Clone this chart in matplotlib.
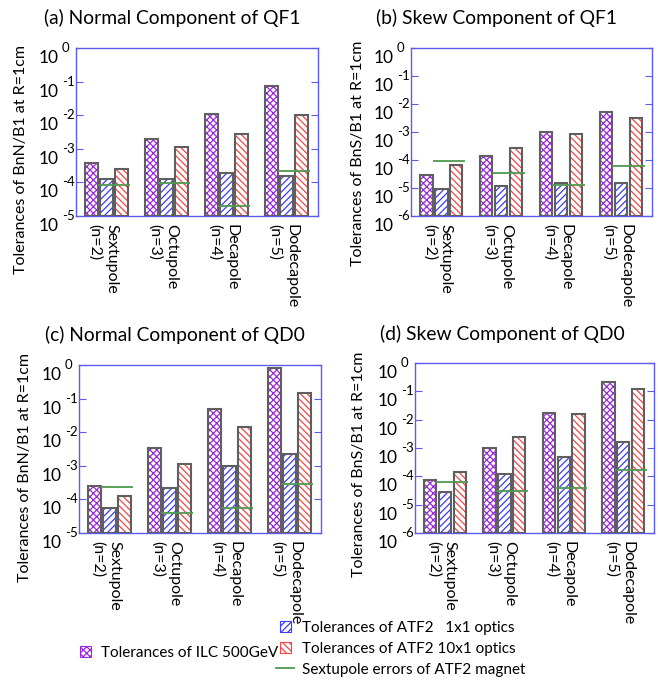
""" multipole tolerances of the final doublet, ILC vs ATF2 """

import numpy
import matplotlib
matplotlib.use("Agg")
import matplotlib.pyplot
import matplotlib.patches
import matplotlib.lines
import matplotlib.legend_handler

OUTPUT = "out.png"

LABELS = ["Sextupole\n(n=2)", "Octupole\n(n=3)", "Decapole\n(n=4)", "Dodecapole\n(n=5)"]

# QF1 normal component
QF1_N_ILC = [3.9e-4, 2.0e-3, 1.12e-2, 7.3e-2]
QF1_N_ATF1 = [1.23e-4, 1.29e-4, 1.94e-4, 1.55e-4]
QF1_N_ATF10 = [2.55e-4, 1.12e-3, 2.67e-3, 9.8e-3]
QF1_N_ERR = [8.3e-5, 9.3e-5, 2.0e-5, 2.2e-4]

# QF1 skew component
QF1_S_ILC = [2.9e-5, 1.41e-4, 9.9e-4, 5.2e-3]
QF1_S_ATF1 = [9.1e-6, 1.18e-5, 1.55e-5, 1.55e-5]
QF1_S_ATF10 = [6.6e-5, 2.58e-4, 8.4e-4, 3.1e-3]
QF1_S_ERR = [9.4e-5, 3.4e-5, 1.28e-5, 5.9e-5]

# QD0 normal component
QD0_N_ILC = [2.43e-4, 3.4e-3, 4.9e-2, 0.80]
QD0_N_ATF1 = [5.5e-5, 2.18e-4, 9.8e-4, 2.2e-3]
QD0_N_ATF10 = [1.23e-4, 1.12e-3, 1.47e-2, 0.15]
QD0_N_ERR = [2.3e-4, 3.9e-5, 5.5e-5, 2.9e-4]

# QD0 skew component
QD0_S_ILC = [7.4e-5, 1.0e-3, 1.7e-2, 0.22]
QD0_S_ATF1 = [2.8e-5, 1.24e-4, 4.9e-4, 1.62e-3]
QD0_S_ATF10 = [1.38e-4, 2.4e-3, 1.55e-2, 0.118]
QD0_S_ERR = [6.3e-5, 3.0e-5, 3.8e-5, 1.73e-4]

FRAME = "#5c5ce8"
EDGE = "#5f5f5f"
PURPLE = "#9a2bd8"
BLUE = "#3c3cf0"
RED = "#f04848"
GREEN = "#4f9a4f"

WIDTH = 0.21
PITCH = 0.25

matplotlib.pyplot.rcParams["font.family"] = ["Lato", "DejaVu Sans"]
matplotlib.pyplot.rcParams["hatch.linewidth"] = 0.9

W, H = 658.0, 692.0


def px_rect(left, top, right, bottom):
    return [left / W, 1 - bottom / H, (right - left) / W, (bottom - top) / H]


def plot_panel(fig, rect, title, title_xy, ylabel, ylabel_xy, lowexp, ilc, atf1, atf10, errs):
    ax = fig.add_axes(px_rect(*rect))
    x = numpy.arange(len(LABELS))
    base = 10.0 ** lowexp

    series = [(-PITCH, ilc, PURPLE, "xxxxx"), (0.0, atf1, BLUE, "/////"), (PITCH, atf10, RED, "\\\\\\\\\\")]
    for off, vals, col, hatch in series:
        vals = numpy.asarray(vals)
        ax.bar(x + off, vals - base, WIDTH, bottom=base, color="white",
               edgecolor=col, hatch=hatch, linewidth=0, zorder=2)
        ax.bar(x + off, vals - base, WIDTH, bottom=base, fill=False,
               edgecolor=EDGE, linewidth=1.5, zorder=3)

    # measured sextupole errors of the magnet, drawn across the ATF2 bars
    ax.hlines(errs, x + PITCH / 2 - 0.27, x + PITCH / 2 + 0.27, colors=GREEN, linewidth=1.3, zorder=4)

    ax.set_yscale("log")
    ax.set_ylim(base, 1.0)
    ax.set_xlim(-0.505, 3.52)
    ax.set_yticks([10.0 ** k for k in range(lowexp, 1)])
    ax.minorticks_off()
    ax.tick_params(axis="y", direction="in", length=5, color=FRAME, left=True, right=True, labelleft=False)
    for spine in ax.spines.values():
        spine.set_color(FRAME)
        spine.set_linewidth(1.0)

    for k in range(lowexp, 1):
        ax.annotate("10", xy=(0, 10.0 ** k), xycoords=ax.get_yaxis_transform(),
                    xytext=(-37, -15), textcoords="offset pixels",
                    ha="left", va="baseline", fontsize=12.5)
        ax.annotate(str(k), xy=(0, 10.0 ** k), xycoords=ax.get_yaxis_transform(),
                    xytext=(-14, -4), textcoords="offset pixels",
                    ha="left", va="baseline", fontsize=9.5)

    ax.set_xticks(x - 0.06)
    ax.set_xticklabels(LABELS, rotation=-90, fontsize=11.5, va="top", ha="center", multialignment="left")
    ax.tick_params(axis="x", length=0, pad=6)

    fig.text(title_xy[0] / W, 1 - title_xy[1] / H, title, ha="center", va="center", fontsize=13.9)
    fig.text(ylabel_xy[0] / W, 1 - ylabel_xy[1] / H, ylabel, ha="center", va="center",
             rotation=90, fontsize=11.5)
    return ax


def square_patch(legend, orig_handle, xdescent, ydescent, width, height, fontsize):
    side = height
    return matplotlib.patches.Rectangle((-xdescent + (width - side) / 2, -ydescent), side, side)


def plot_tolerances():
    fig = matplotlib.pyplot.figure(figsize=(W / 100, H / 100), dpi=100)

    plot_panel(fig, (76, 48, 318, 216), "(a) Normal Component of QF1", (172, 18),
               "Tolerances of BnN/B1 at R=1cm", (21, 159), -5,
               QF1_N_ILC, QF1_N_ATF1, QF1_N_ATF10, QF1_N_ERR)
    plot_panel(fig, (411, 48, 652, 216), "(b) Skew Component of QF1", (497, 18),
               "Tolerances of BnS/B1 at R=1cm", (358, 153), -6,
               QF1_S_ILC, QF1_S_ATF1, QF1_S_ATF10, QF1_S_ERR)
    plot_panel(fig, (79, 365, 321, 533), "(c) Normal Component of QD0", (175, 335),
               "Tolerances of BnN/B1 at R=1cm", (25, 467), -5,
               QD0_N_ILC, QD0_N_ATF1, QD0_N_ATF10, QD0_N_ERR)
    plot_panel(fig, (415, 363, 654, 533), "(d) Skew Component of QD0", (502, 334),
               "Tolerances of BnS/B1 at R=1cm", (359, 464), -6,
               QD0_S_ILC, QD0_S_ATF1, QD0_S_ATF10, QD0_S_ERR)

    h_ilc = matplotlib.patches.Patch(facecolor="white", edgecolor=PURPLE, hatch="xxxxx", linewidth=0.8)
    h_atf1 = matplotlib.patches.Patch(facecolor="white", edgecolor=BLUE, hatch="/////", linewidth=0.8)
    h_atf10 = matplotlib.patches.Patch(facecolor="white", edgecolor=RED, hatch="\\\\\\\\\\", linewidth=0.8)
    h_err = matplotlib.lines.Line2D([], [], color=GREEN, linewidth=1.3)
    square = matplotlib.legend_handler.HandlerPatch(patch_func=square_patch)

    fig.legend([h_ilc], ["Tolerances of ILC 500GeV"], loc="center left",
               bbox_to_anchor=(80 / W, 1 - 653 / H), frameon=False, fontsize=11,
               borderpad=0, borderaxespad=0, handlelength=0.75, handleheight=0.75,
               handletextpad=0.6, handler_map={matplotlib.patches.Patch: square})
    fig.legend([h_atf1, h_atf10, h_err],
               ["Tolerances of ATF2   1x1 optics", "Tolerances of ATF2 10x1 optics",
                "Sextupole errors of ATF2 magnet"],
               loc="center left", bbox_to_anchor=(276 / W, 1 - 649 / H), frameon=False,
               fontsize=11, borderpad=0, borderaxespad=0, handlelength=1.2,
               handleheight=0.75, handletextpad=0.5, labelspacing=0.45,
               handler_map={matplotlib.patches.Patch: square})

    matplotlib.pyplot.savefig(OUTPUT, dpi=100)
    matplotlib.pyplot.close()


if __name__ == "__main__":
    plot_tolerances()
